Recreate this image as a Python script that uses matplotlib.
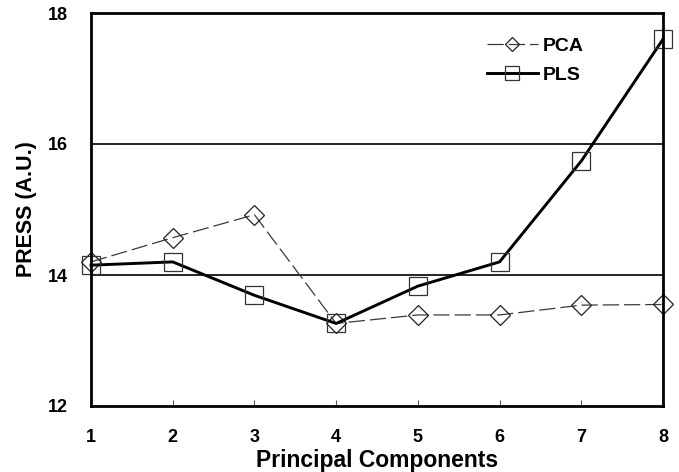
import matplotlib
matplotlib.use("Agg")
import matplotlib.pyplot as plt

components = [1, 2, 3, 4, 5, 6, 7, 8]
pca_press = [14.20, 14.57, 14.92, 13.26, 13.39, 13.39, 13.54, 13.55]
pls_press = [14.15, 14.20, 13.69, 13.26, 13.83, 14.20, 15.74, 17.60]
y_ticks = [12, 14, 16, 18]

plt.rcParams['font.family'] = ['Liberation Sans', 'DejaVu Sans']

W, H = 679, 472
fig = plt.figure(figsize=(W / 100, H / 100), dpi=100)
ax = fig.add_axes([91 / W, 1 - 406 / H, (663 - 91) / W, (406 - 13) / H])

for g in [14, 16]:
    ax.axhline(g, color='black', lw=1.2, zorder=1)

ax.plot(components, pca_press, color='#3a3a3a', lw=0.9, dashes=(13, 4),
        marker='D', markersize=10, markerfacecolor='none',
        markeredgecolor='#222222', markeredgewidth=0.9, label='PCA',
        zorder=3, clip_on=False)
ax.plot(components, pls_press, color='black', lw=2.1,
        marker='s', markersize=13.5, markerfacecolor='none',
        markeredgecolor='#333333', markeredgewidth=0.9, label='PLS',
        zorder=3, clip_on=False)

ax.set_xlim(1, 8)
ax.set_ylim(12, 18)
ax.set_xticks(components)
ax.set_yticks(y_ticks)
ax.tick_params(axis='x', direction='in', length=4, width=0.8, color='#555555',
               pad=16.5, labelsize=13)
ax.tick_params(axis='y', length=0, pad=17, labelsize=13)
for lab in ax.get_xticklabels() + ax.get_yticklabels():
    lab.set_fontweight('bold')
for s in ax.spines.values():
    s.set_linewidth(2)
    s.set_zorder(4)

ax.set_xlabel('Principal Components', fontsize=16.5, fontweight='bold', labelpad=2.5)
ax.set_ylabel('PRESS (A.U.)', fontsize=15.5, fontweight='bold', labelpad=7.5)

leg = ax.legend(loc='upper left', bbox_to_anchor=(487 / W, 1 - 37 / H),
                bbox_transform=fig.transFigure, frameon=False, borderpad=0,
                borderaxespad=0,
                prop={'weight': 'bold', 'size': 14}, handlelength=2.6,
                handletextpad=0.25, labelspacing=0.6, markerscale=0.7)

fig.savefig('out.png', dpi=100)
